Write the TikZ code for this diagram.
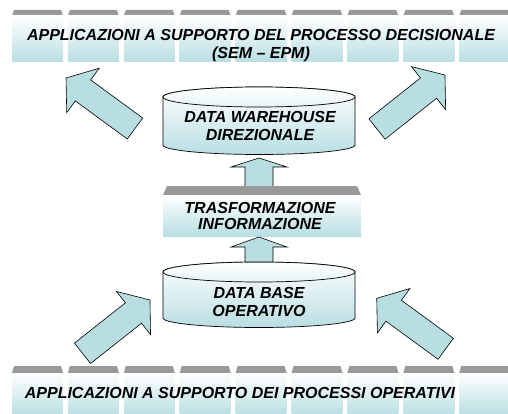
\documentclass[tikz,border=0pt]{standalone}
\usepackage{fontspec}
\setmainfont{Liberation Sans}
\usetikzlibrary{calc}
\definecolor{tealfill}{RGB}{184,222,226}
\definecolor{tabgrey}{RGB}{153,153,153}
\tikzset{
  lbl/.style={font=\fontsize{16}{17.5}\selectfont\bfseries\itshape, align=center, inner sep=0pt},
  blockarr/.style={draw=black, line width=0.6pt, fill=tealfill, line join=miter},
  tabtop/.style={fill=tabgrey, draw=none},
  tabbody/.style={draw=none, top color=white, bottom color=tealfill},
  cylbody/.style={draw=black, line width=0.7pt, top color=white, bottom color=tealfill},
  cyltop/.style={draw=black, line width=0.7pt, top color=white, bottom color=tealfill!35},
}
% #1 tail coordinate, #2 tip coordinate, #3 shaft width, #4 head width, #5 head length
\newcommand\myblockarrow[5]{%
  \path let \p1=(#1), \p2=(#2),
    \n1={atan2(\y2-\y1,\x2-\x1)}, \n2={veclen(\x2-\x1,\y2-\y1)} in
    \pgfextra{\xdef\arrang{\n1}\xdef\arrlen{\n2}};
  \begin{scope}[shift={(#1)}, rotate=\arrang]
    \draw[blockarr] (0,{-#3/2}) -- ({\arrlen-#5},{-#3/2}) -- ({\arrlen-#5},{-#4/2})
      -- (\arrlen,0) -- ({\arrlen-#5},{#4/2}) -- ({\arrlen-#5},{#3/2}) -- (0,{#3/2}) -- cycle;
  \end{scope}}
% cylinder: #1 left x, #2 right x, #3 top-ellipse centre y, #4 bottom-ellipse centre y
\newcommand\mycylinder[4]{%
  \pgfmathsetmacro\cx{(#1+#2)/2}\pgfmathsetmacro\rx{(#2-#1)/2}
  \path[cylbody] (#1,#3) -- (#1,#4) arc[start angle=180,end angle=360,x radius=\rx,y radius=9.5]
     -- (#2,#3) arc[start angle=0,end angle=180,x radius=\rx,y radius=10] -- cycle;
  \draw[cyltop] (\cx,#3) ellipse[x radius=\rx,y radius=10];}
\begin{document}
\begin{tikzpicture}[x=1pt,y=1pt]
\useasboundingbox (0,0) rectangle (508,-414);
\clip (0,0) rectangle (508,-414);
% top band of tabs
\foreach \k in {0,...,8}{
  \pgfmathsetmacro\xa{12+55.9*\k}
  \fill[tabtop] (\xa,-16) -- (\xa+2,-10) -- (\xa+49,-10) -- (\xa+51,-16) -- cycle;
  \shade[tabbody] (\xa,-16) rectangle (\xa+51,-62);
}
% bottom band of tabs
\foreach \k in {0,...,8}{
  \pgfmathsetmacro\xa{12+55.9*\k}
  \fill[tabtop] (\xa,-373) -- (\xa+2,-366) -- (\xa+49,-366) -- (\xa+51,-373) -- cycle;
  \shade[tabbody] (\xa,-373) rectangle (\xa+51,-416);
}
\node[lbl, font=\fontsize{16}{18.3}\selectfont\bfseries\itshape] (top) at (261,-45.5)
  {APPLICAZIONI A SUPPORTO DEL PROCESSO DECISIONALE\\(SEM -- EPM)};
\node[lbl] (bottom) at (240,-393) {APPLICAZIONI A SUPPORTO DEI PROCESSI OPERATIVI};
% big diagonal arrows
\coordinate (tlTail) at (135,-128.5); \coordinate (tlTip) at (66,-78);
\coordinate (trTail) at (377,-129);   \coordinate (trTip) at (445,-75);
\coordinate (blTail) at (82.5,-353.3); \coordinate (blTip) at (150,-300);
\coordinate (brTail) at (445.7,-348.8); \coordinate (brTip) at (376.7,-298.3);
\myblockarrow{tlTail}{tlTip}{26}{55}{21}
\myblockarrow{trTail}{trTip}{26}{55}{21}
\myblockarrow{blTail}{blTip}{26}{55}{21}
\myblockarrow{brTail}{brTip}{26}{55}{21}
% arrow DWH <- trasformazione
\coordinate (upTail) at (259,-188); \coordinate (upTip) at (259,-158);
\myblockarrow{upTail}{upTip}{28}{56}{9}
% trasformazione box
\fill[tabtop] (163,-195) -- (167,-186) -- (357,-186) -- (361,-195) -- cycle;
\shade[tabbody] (163,-195) rectangle (361,-236);
\node[lbl, font=\fontsize{16}{16}\selectfont\bfseries\itshape] (trasf) at (260,-216) {TRASFORMAZIONE\\INFORMAZIONE};
% cylinders
\mycylinder{163}{355}{-97}{-145}
\node[lbl] (dwh) at (260,-126) {DATA WAREHOUSE\\DIREZIONALE};
\mycylinder{163}{355}{-272}{-318}
\node[lbl] (dbo) at (259,-302) {DATA BASE\\OPERATIVO};
% arrow trasformazione <- DB
\coordinate (lowTail) at (259,-262); \coordinate (lowTip) at (259,-237);
\myblockarrow{lowTail}{lowTip}{28}{56}{10}
\end{tikzpicture}
\end{document}
